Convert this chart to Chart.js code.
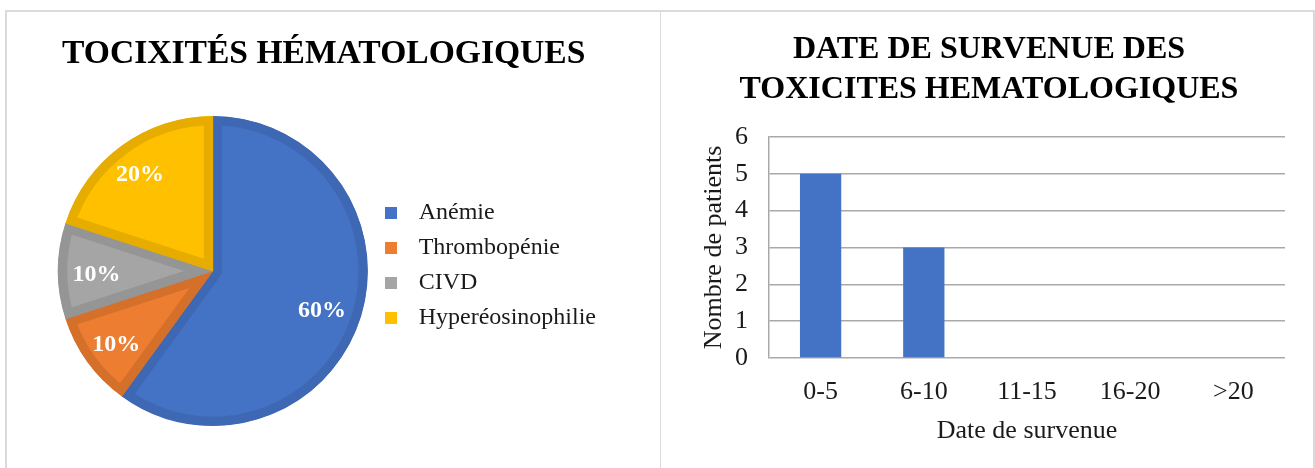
<!DOCTYPE html>
<html>
<head>
<meta charset="utf-8">
<script src="https://cdn.jsdelivr.net/npm/chart.js@4/dist/chart.umd.min.js"></script>
<style>
  html, body { margin: 0; padding: 0; background: #fff; overflow: hidden; }
  .panel { position: absolute; top: 10px; height: 480px; box-sizing: border-box; border: 2px solid #dadada; background: #fff; }
  #panel-left { left: 5px; width: 657px; }
  #panel-right { left: 661px; width: 654px; border-left: none; }
  canvas { position: absolute; }
  #pie { left: 7px; top: 12px; }
  #bars { left: 663px; top: 12px; }
</style>
</head>
<body>
<div class="panel" id="panel-left"></div>
<div class="panel" id="panel-right"></div>
<canvas id="pie" width="650" height="507"></canvas>
<canvas id="bars" width="652" height="456"></canvas>
<script>
// pie : type de toxicité (en %)
const toxLabels = ['Anémie', 'Thrombopénie', 'CIVD', 'Hyperéosinophilie'];
const toxValues = [60, 10, 10, 20];
const toxColors = ['#4472c4', '#ed7d31', '#a5a5a5', '#ffc000'];
const toxBorders = ['#3e68b3', '#d5702b', '#959595', '#e6ad00'];

// bars : date de survenue
const dateLabels = ['0-5', '6-10', '11-15', '16-20', '>20'];
const patientCounts = [5, 3, 0, 0, 0];
const yTicks = [0, 1, 2, 3, 4, 5, 6];

const serif = "'Liberation Serif', 'Times New Roman', serif";
const textColor = '#1a1a1a';
const gridColor = '#a9a9a9';

Chart.defaults.font.family = serif;
Chart.defaults.color = textColor;
Chart.defaults.animation = false;

// little square used as legend marker
function squareMarker(color) {
  const c = document.createElement('canvas');
  c.width = 12;
  c.height = 12;
  const g = c.getContext('2d');
  g.fillStyle = color;
  g.fillRect(0, 0, 12, 12);
  return c;
}

// white percent labels inside the slices (how far out, per slice, like Excel's best fit)
const labelRadius = [0.74, 0.77, 0.75, 0.80];
const sliceLabels = {
  id: 'sliceLabels',
  afterDatasetsDraw(chart) {
    const ctx = chart.ctx;
    const meta = chart.getDatasetMeta(0);
    ctx.save();
    ctx.fillStyle = '#ffffff';
    ctx.font = 'bold 24px ' + serif;
    ctx.textAlign = 'center';
    ctx.textBaseline = 'middle';
    meta.data.forEach((arc, i) => {
      const p = arc.getProps(['x', 'y', 'startAngle', 'endAngle', 'outerRadius'], true);
      const mid = (p.startAngle + p.endAngle) / 2;
      const r = p.outerRadius * labelRadius[i];
      ctx.fillText(toxValues[i] + '%', p.x + Math.cos(mid) * r, p.y + Math.sin(mid) * r + 4);
    });
    ctx.restore();
  }
};

new Chart(document.getElementById('pie'), {
  type: 'pie',
  data: {
    labels: toxLabels,
    datasets: [{
      data: toxValues,
      backgroundColor: toxColors,
      borderColor: toxBorders,
      borderWidth: 9,
      borderAlign: 'inner',
      radius: 155
    }]
  },
  options: {
    responsive: false,
    devicePixelRatio: 1,
    layout: { padding: { left: 55, right: 51, top: 0, bottom: 0 } },
    plugins: {
      title: {
        display: true,
        align: 'start',
        text: 'TOCIXITÉS HÉMATOLOGIQUES',
        color: '#000',
        font: { size: 33.6, weight: 'bold', lineHeight: 1.2 },
        // negative bottom padding lets the pie sit right under the title
        padding: { top: 22.1, bottom: -51.4 }
      },
      legend: {
        position: 'right',
        labels: {
          usePointStyle: true,
          pointStyleWidth: 32,
          padding: 11,
          color: textColor,
          font: { size: 24 },
          generateLabels: function (chart) {
            return chart.data.labels.map((label, i) => ({
              text: label,
              fillStyle: toxColors[i],
              strokeStyle: toxColors[i],
              lineWidth: 0,
              pointStyle: squareMarker(toxColors[i]),
              fontColor: textColor,
              hidden: false,
              index: i
            }));
          }
        }
      },
      tooltip: { enabled: false }
    }
  },
  plugins: [sliceLabels]
});

new Chart(document.getElementById('bars'), {
  type: 'bar',
  data: {
    labels: dateLabels,
    datasets: [{
      data: patientCounts,
      backgroundColor: '#4472c4',
      categoryPercentage: 0.8,
      barPercentage: 0.5
    }]
  },
  options: {
    responsive: false,
    devicePixelRatio: 1,
    layout: { padding: { left: 30, right: 30, top: 0, bottom: 0 } },
    plugins: {
      title: {
        display: true,
        text: ['DATE DE SURVENUE DES', 'TOXICITES HEMATOLOGIQUES'],
        color: '#000',
        font: { size: 32, weight: 'bold', lineHeight: 1.24 },
        padding: { top: 18, bottom: 27.6 }
      },
      legend: { display: false },
      tooltip: { enabled: false }
    },
    scales: {
      x: {
        grid: { display: false },
        border: { display: false },
        ticks: { font: { size: 26 }, color: textColor, padding: 11 },
        title: {
          display: true,
          text: 'Date de survenue',
          font: { size: 26, lineHeight: 1.2 },
          color: textColor,
          padding: { top: 0, bottom: 21 }
        },
        afterFit(scale) { scale.height = 110; }
      },
      y: {
        min: yTicks[0],
        max: yTicks[yTicks.length - 1],
        grid: { color: gridColor, lineWidth: 1.5, drawTicks: false },
        border: { display: true, color: gridColor, width: 1.5 },
        ticks: { stepSize: 1, font: { size: 26 }, color: textColor, padding: 21 },
        title: {
          display: true,
          text: 'Nombre de patients',
          font: { size: 26, lineHeight: 1.2 },
          color: textColor,
          padding: { top: 6, bottom: 0 }
        },
        afterFit(scale) { scale.width = 76; }
      }
    }
  }
});
</script>
</body>
</html>
